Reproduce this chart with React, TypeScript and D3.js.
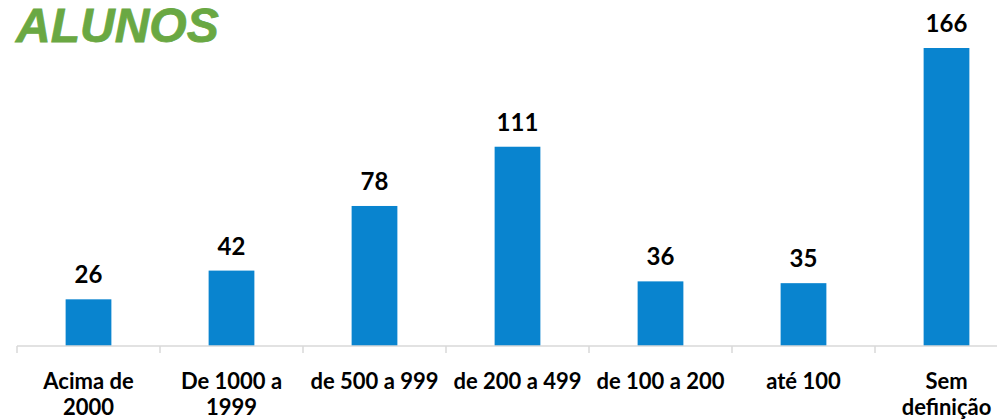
import React from "react";
import * as d3 from "d3";

const categories = ["Acima de 2000", "De 1000 a 1999", "de 500 a 999", "de 200 a 499", "de 100 a 200", "até 100", "Sem definição"];
const labelLines = [["Acima de", "2000"], ["De 1000 a", "1999"], ["de 500 a 999"], ["de 200 a 499"], ["de 100 a 200"], ["até 100"], ["Sem", "definição"]];
const values = [26, 42, 78, 111, 36, 35, 166];
const title = "ALUNOS";

export default function App() {
  const W = 997, H = 419;
  const left = 17, bandW = 143;
  const baseline = 346;
  const x = d3.scaleBand<string>().domain(categories).range([left, left + bandW * categories.length]).paddingInner(0.68).paddingOuter(0.34);
  const y = d3.scaleLinear().domain([0, 166]).range([baseline, 48]);
  const ticks = d3.range(categories.length + 1).map((i) => left + i * bandW);
  const font = "Lato, 'Open Sans', sans-serif";
  return (
    <svg width={W} height={H} style={{ position: "absolute", left: 0, top: 0, background: "#fff" }}>
      <text x={16} y={42} fontFamily="'Liberation Sans', Arial, sans-serif" fontWeight="bold" fontStyle="italic" fontSize={48} fill="#6aa843" stroke="#6aa843" strokeWidth={0.8}>{title}</text>
      {categories.map((c, i) => (
        <g key={c}>
          <rect x={x(c)} y={y(values[i])} width={x.bandwidth()} height={baseline - y(values[i])} fill="#0984cf" />
          <text x={(x(c) as number) + x.bandwidth() / 2} y={y(values[i]) - 16} textAnchor="middle" fontFamily={font} fontWeight="bold" fontSize={24} fill="#000">{values[i]}</text>
          {labelLines[i].map((l, j) => (
            <text key={j} x={left + bandW * i + bandW / 2} y={389 + j * 26} textAnchor="middle" fontFamily={font} fontWeight="bold" fontSize={22} fill="#000">{l}</text>
          ))}
        </g>
      ))}
      <line x1={left} x2={W} y1={baseline} y2={baseline} stroke="#d9d9d9" strokeWidth={1.5} />
      {ticks.map((t, i) => (
        <line key={i} x1={t} x2={t} y1={baseline} y2={baseline + 7} stroke="#d9d9d9" strokeWidth={1.5} />
      ))}
    </svg>
  );
}
